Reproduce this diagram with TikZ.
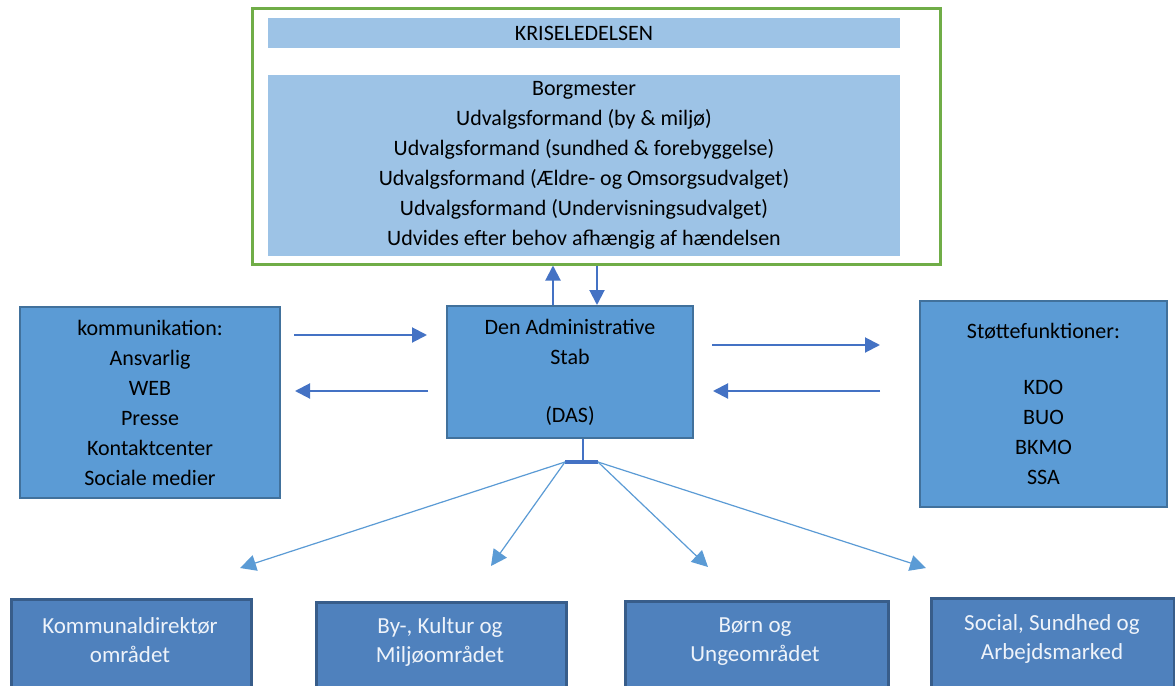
\documentclass[tikz,border=0pt]{standalone}
\usepackage{fontspec}
\setmainfont{Carlito}
\usepackage{tikz}
\usetikzlibrary{arrows.meta, positioning, calc}
\definecolor{mygreen}{RGB}{112,173,71}
\definecolor{mylight}{RGB}{157,195,230}
\definecolor{mymid}{RGB}{91,155,213}
\definecolor{myedge}{RGB}{65,113,156}
\definecolor{myarrow}{RGB}{68,114,196}
\definecolor{mydeep}{RGB}{79,129,189}
\definecolor{mydeepedge}{RGB}{56,93,138}
\definecolor{mypale}{RGB}{238,243,250}
\tikzset{
  crisisframe/.style={rectangle, draw=mygreen, line width=1.5pt,
    minimum width=344pt, minimum height=128pt},
  lightbox/.style={rectangle, fill=mylight, minimum width=316pt,
    align=center, font=\fontsize{11}{15}\selectfont},
  midbox/.style={rectangle, draw=myedge, fill=mymid, line width=1pt,
    align=center, font=\fontsize{11}{15}\selectfont},
  areabox/.style={rectangle, draw=mydeepedge, fill=mydeep,
    line width=1.3pt, anchor=north west},
  areatext/.style={align=center, text=mypale,
    font=\fontsize{11.5}{14.5}\selectfont},
  arrow/.style={-{Triangle[length=7.5pt,width=7.5pt]}, line width=1pt, color=myarrow},
  fanarrow/.style={-{Triangle[length=8pt,width=8pt]}, line width=0.6pt, color=mymid},
  line/.style={line width=1pt, color=myarrow}
}

\begin{document}
\begin{tikzpicture}[x=0.5pt, y=-0.5pt]
  \clip (0,0) rectangle (1175,686);
  \fill[white] (0,0) rectangle (1175,686);

  % Kriseledelsen
  \node[crisisframe] (frame) at (596,136) {};
  \node[lightbox, minimum height=15pt] (head) at (584,33) {KRISELEDELSEN};
  \node[lightbox, minimum height=88pt] (members) at (584,165.5)
    {Borgmester\\Udvalgsformand (by \& miljø)\\Udvalgsformand (sundhed \&\ forebyggelse)\\Udvalgsformand (Ældre- og Omsorgsudvalget)\\Udvalgsformand (Undervisningsudvalget)\\Udvides efter behov afhængig af hændelsen};

  % Middle row
  \node[midbox, minimum width=123pt, minimum height=66pt] (das) at (570,372)
    {Den Administrative\\Stab\\[14pt](DAS)};
  \node[midbox, minimum width=130pt, minimum height=95.5pt] (komm) at (150,402.5)
    {kommunikation:\\Ansvarlig\\WEB\\Presse\\Kontaktcenter\\Sociale medier};
  \node[midbox, minimum width=123.5pt, minimum height=103pt] (stoette) at (1043.5,404)
    {Støttefunktioner:\\[13pt]KDO\\BUO\\BKMO\\SSA};

  % DAS <-> Kriseledelsen
  \coordinate (upx) at (553,0);
  \coordinate (downx) at (597,0);
  \draw[arrow] (upx |- das.north) -- (upx |- frame.south);
  \draw[arrow] (downx |- frame.south) -- (downx |- das.north);

  % side arrows
  \coordinate (k1) at (294,335);
  \coordinate (d1) at (427,335);
  \coordinate (d2) at (428,391);
  \coordinate (k2) at (295,391);
  \coordinate (d3) at (712,345);
  \coordinate (s3) at (880,345);
  \coordinate (s4) at (880,391);
  \coordinate (d4) at (713,391);
  \draw[arrow] (k1) -- (d1);
  \draw[arrow] (d2) -- (k2);
  \draw[arrow] (d3) -- (s3);
  \draw[arrow] (s4) -- (d4);

  % fan to the areas
  \coordinate (hub) at (583,462);
  \coordinate (hubl) at (565,462);
  \coordinate (hubr) at (598,462);
  \draw[line] (hub |- das.south) -- (hub);
  \draw[line, line width=1.6pt] (hubl) -- (hubr);
  \coordinate (t1) at (240,568);
  \coordinate (t2) at (491,566);
  \coordinate (t3) at (708,567);
  \coordinate (t4) at (926,568);
  \draw[fanarrow] (hubl) -- (t1);
  \draw[fanarrow] (hubl) -- (t2);
  \draw[fanarrow] (hubr) -- (t3);
  \draw[fanarrow] (hubr) -- (t4);

  % areas
  \node[areabox, minimum width=120pt, minimum height=60pt] (kda) at (10,598) {};
  \node[areabox, minimum width=125pt, minimum height=60pt] (bkm) at (315,601) {};
  \node[areabox, minimum width=131.5pt, minimum height=60pt] (bu) at (624,600) {};
  \node[areabox, minimum width=121.5pt, minimum height=60pt] (ssa) at (930,597) {};
  \node[areatext] (kdatxt) at (130,640) {Kommunaldirektør\\området};
  \node[areatext] (bkmtxt) at (440,642) {By-, Kultur og\\Miljøområdet};
  \node[areatext] (butxt) at (755,642) {Børn og\\Ungeområdet};
  \node[areatext] (ssatxt) at (1052,639) {Social, Sundhed og\\Arbejdsmarked};
\end{tikzpicture}
\end{document}
